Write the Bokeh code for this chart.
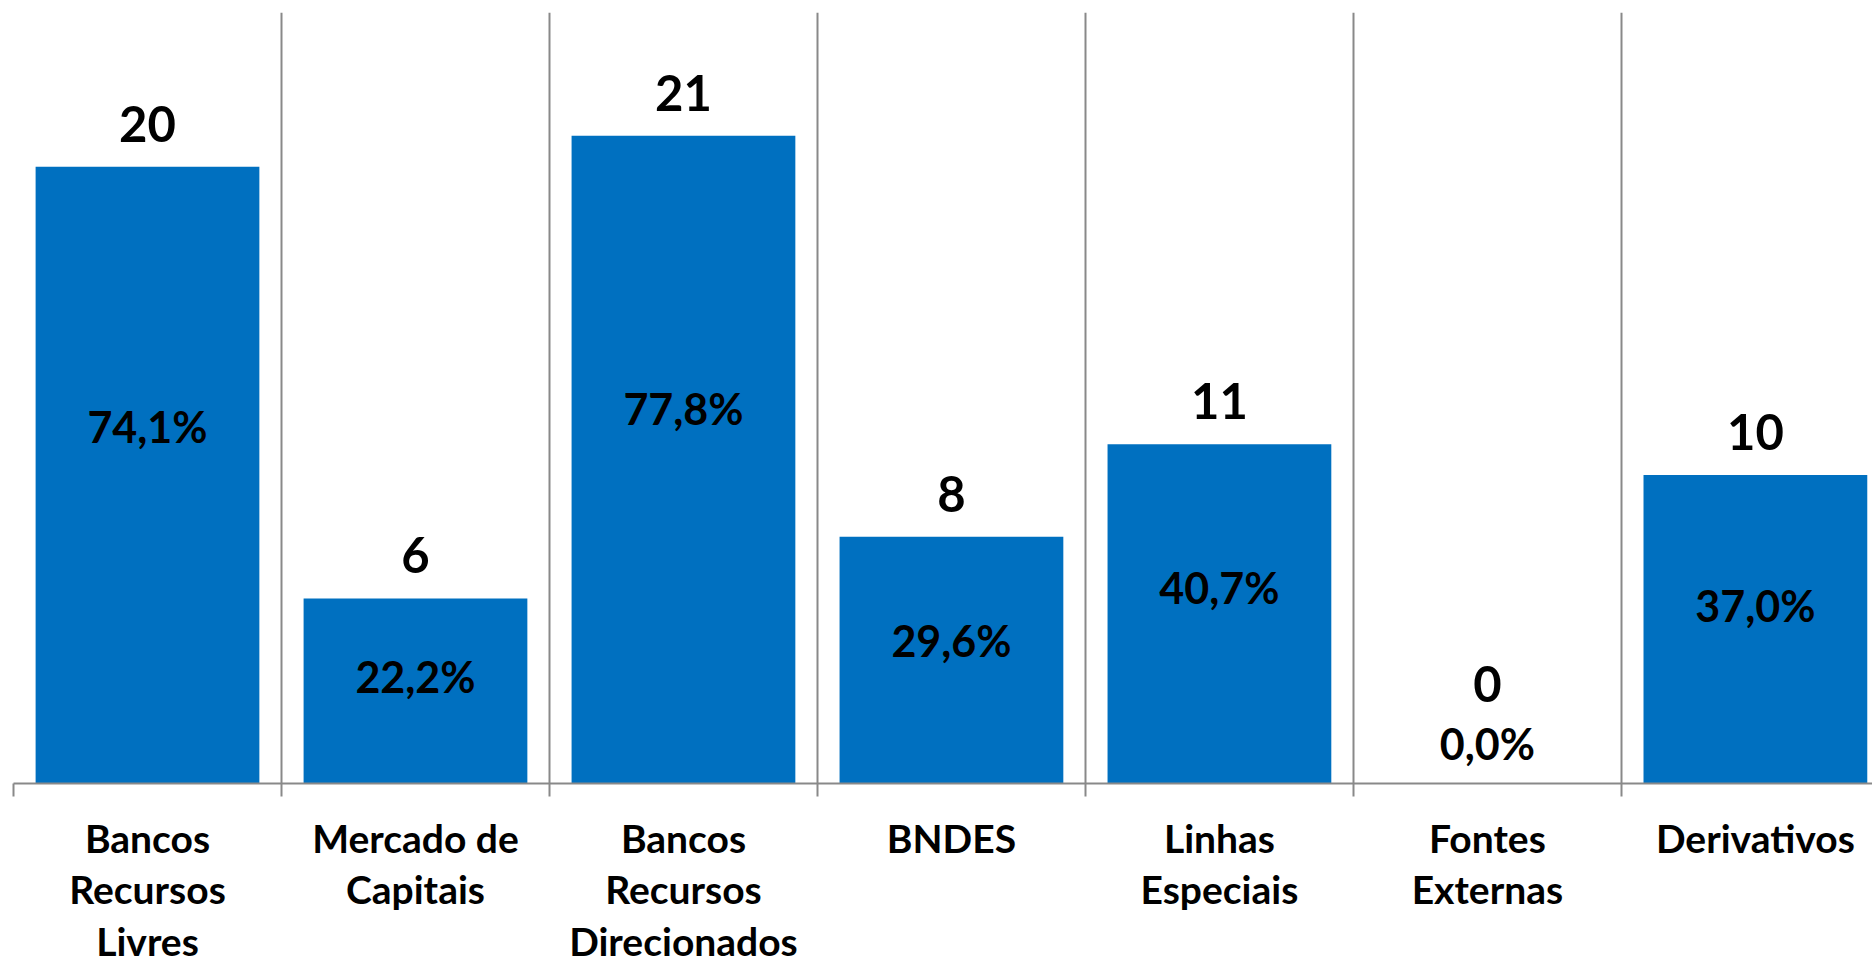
from bokeh.plotting import figure
from bokeh.models import Range1d, FixedTicker, LinearAxis, Grid
from bokeh.core.properties import value
from bokeh.embed import file_html
from bokeh.resources import INLINE

# ---- data ----
categories = [
    "Bancos\nRecursos\nLivres",
    "Mercado de\nCapitais",
    "Bancos\nRecursos\nDirecionados",
    "BNDES",
    "Linhas\nEspeciais",
    "Fontes\nExternas",
    "Derivativos",
]
counts = [20, 6, 21, 8, 11, 0, 10]
percents = [74.1, 22.2, 77.8, 29.6, 40.7, 0.0, 37.0]

# ---- derived ----
n = len(categories)
centers = [i + 0.5 for i in range(n)]
boundaries = [float(i) for i in range(n + 1)]
count_labels = [str(c) for c in counts]
pct_labels = [f"{v:.1f}%".replace(".", ",") for v in percents]
count_offsets = [-43 if c > 0 else -100 for c in counts]
pct_offsets = [0 if v > 0 else -40 for v in percents]

BLUE = "#0070C0"
GRAY = "#898989"
FONT = "Lato"

p = figure(
    frame_width=1859, frame_height=771,
    min_border_left=13, min_border_top=12, min_border_right=0, min_border_bottom=177,
    x_range=Range1d(0, 6.937), y_range=Range1d(0, 25),
    x_axis_type=None, y_axis_type=None,
    output_backend="svg", toolbar_location=None,
)
p.extra_y_ranges = {"pct": Range1d(0, 160)}
p.outline_line_color = None
p.background_fill_color = "white"
p.border_fill_color = "white"

grid = Grid(dimension=0, ticker=FixedTicker(ticks=boundaries),
            grid_line_color=GRAY, grid_line_width=2)
p.add_layout(grid)

p.vbar(x=centers, top=counts, bottom=0, width=0.835, fill_color=BLUE, line_color=None)

ax = LinearAxis(ticker=FixedTicker(ticks=centers, minor_ticks=boundaries))
ax.major_label_overrides = {c: lab for c, lab in zip(centers, categories)}
ax.major_tick_line_color = None
ax.major_tick_out = 0
ax.major_tick_in = 0
ax.minor_tick_line_color = GRAY
ax.minor_tick_line_width = 2
ax.minor_tick_out = 13
ax.minor_tick_in = 0
ax.axis_line_color = GRAY
ax.axis_line_width = 2
ax.major_label_text_font = FONT
ax.major_label_text_font_style = "bold"
ax.major_label_text_font_size = "39px"
ax.major_label_text_color = "black"
ax.major_label_text_line_height = 1.12
ax.major_label_standoff = 18
p.add_layout(ax, "below")

p.text(x=centers, y=counts, text=count_labels, y_offset=count_offsets,
       text_align="center", text_baseline="middle",
       text_font=value(FONT), text_font_style="bold", text_font_size="49px",
       text_color="black")
p.text(x=centers, y=percents, y_range_name="pct", text=pct_labels, y_offset=pct_offsets,
       text_align="center", text_baseline="middle",
       text_font=value(FONT), text_font_style="bold", text_font_size="43px",
       text_color="black")

open("out.html", "w").write(file_html(p, INLINE))
